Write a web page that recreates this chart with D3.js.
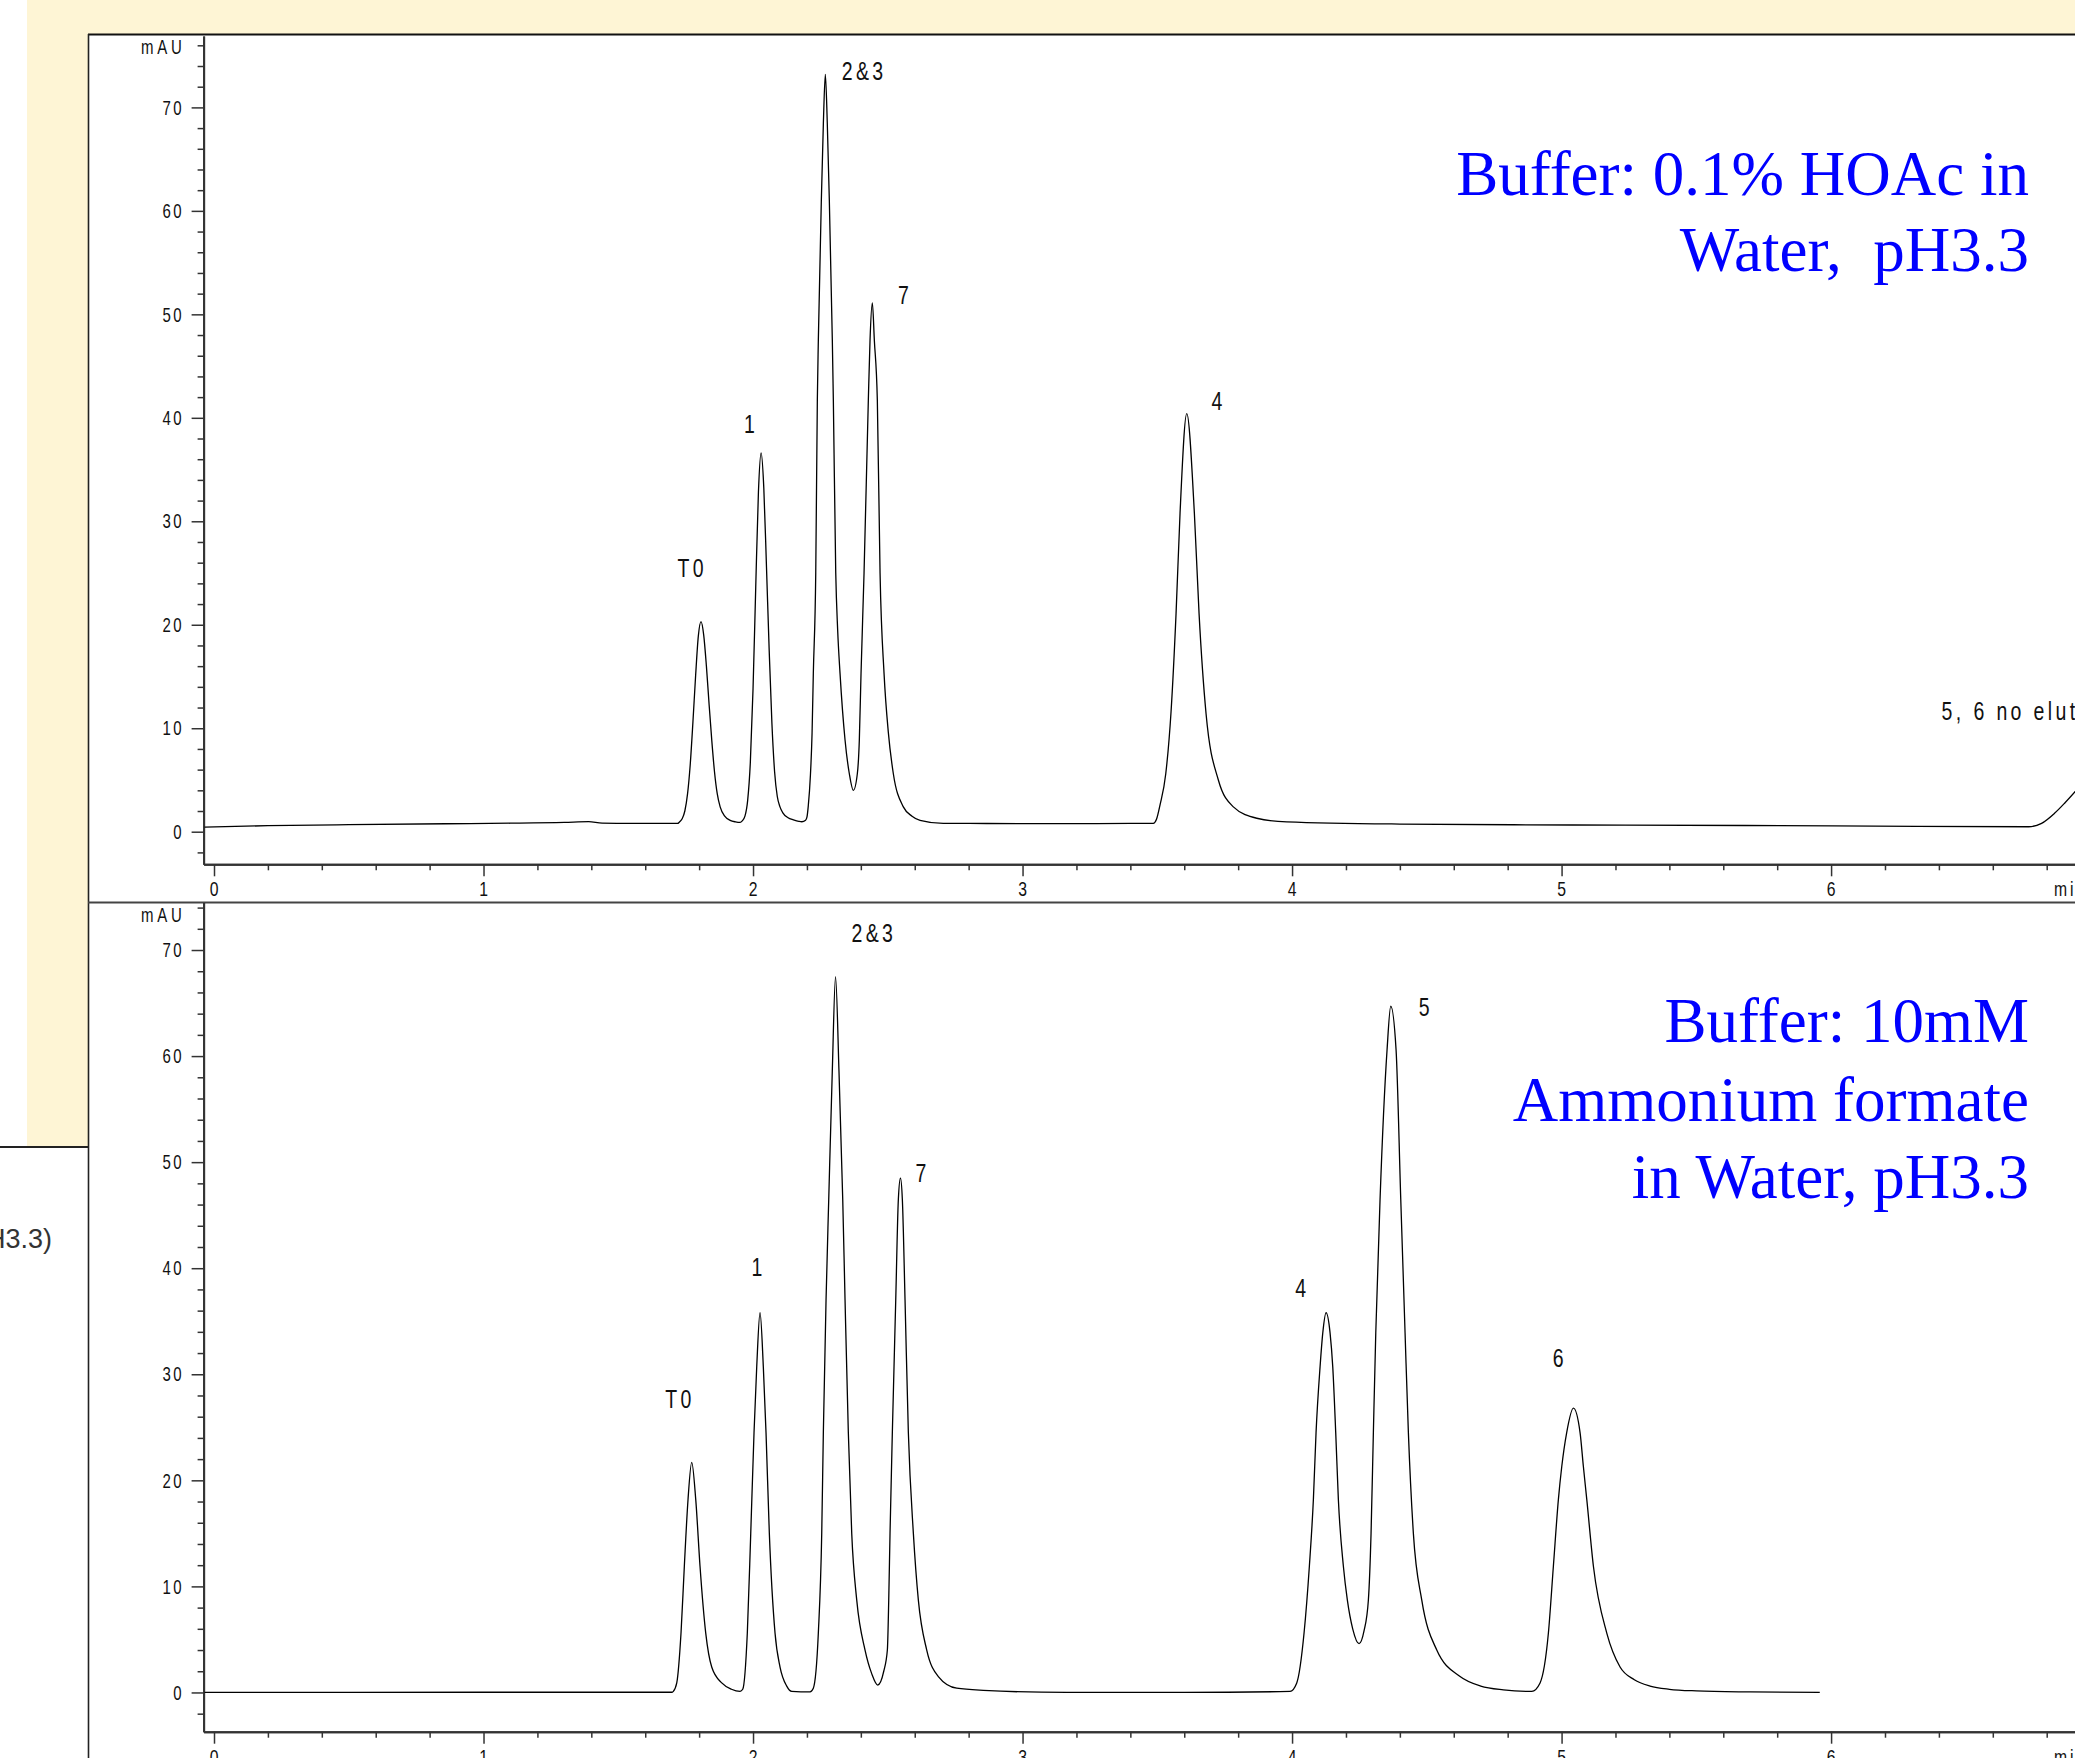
<!DOCTYPE html>
<html><head><meta charset="utf-8">
<script src="https://cdn.jsdelivr.net/npm/d3@7"></script>
<style>html,body{margin:0;padding:0;background:#fff;overflow:hidden}</style>
</head><body><div id="chart"></div>
<script>
// ---------- DATA ----------
// retention time (min), absorbance (mAU)
const topTrace = [
 [-0.035,0.45],[0.2,0.58],[0.5,0.68],[0.86,0.77],[1.1,0.82],[1.3,0.9],[1.39,0.97],[1.44,0.82],[1.55,0.8],[1.72,0.8],
 [1.727,0.94],[1.737,1.25],[1.747,2.0],[1.757,3.65],[1.767,6.5],[1.777,10.6],[1.787,15.1],[1.797,18.9],[1.807,20.3],
 [1.817,19.0],[1.827,16.0],[1.837,12.3],[1.847,8.8],[1.857,5.8],[1.867,3.7],[1.878,2.4],[1.895,1.5],[1.915,1.1],[1.935,0.95],[1.952,0.9],
 [1.960,1.05],[1.970,1.5],[1.980,3.0],[1.990,6.7],[2.000,13.8],[2.010,23.6],[2.020,32.8],[2.030,36.6],
 [2.040,33.2],[2.050,25.5],[2.060,17.5],[2.070,10.5],[2.080,5.8],[2.090,3.4],[2.100,2.4],[2.110,1.85],[2.130,1.35],[2.150,1.15],[2.170,1.0],[2.181,0.96],
 [2.195,1.1],[2.200,1.4],[2.205,2.5],[2.213,5.5],[2.219,9.5],[2.2237,15.3],[2.2327,25],[2.2386,41.7],[2.2423,47.5],[2.2534,61],[2.2610,68.5],[2.2683,73.2],
 [2.2755,68.5],[2.2831,61],[2.2942,47.5],[2.2980,41.7],[2.3069,25],[2.3140,19.5],[2.3228,15.3],[2.3414,8.86],[2.3573,5.6],[2.3722,4.0],
 [2.3870,5.6],[2.3944,8.86],[2.4007,15.3],[2.4119,25],[2.4278,41.7],[2.4341,47.5],[2.4427,51.1],
 [2.4501,47.5],[2.4612,41.7],[2.4713,25],[2.4861,15.3],[2.5020,9.6],[2.5206,5.6],[2.5577,2.4],[2.5900,1.5],[2.6197,1.1],[2.7061,0.8],
 [2.8,0.8],[3.0,0.78],[3.2,0.78],[3.4,0.8],[3.4853,0.81],[3.497,1.2],
 [3.5102,2.6],[3.5314,5.6],[3.5510,11.6],[3.5696,21.1],[3.5844,30.8],[3.6093,40.4],
 [3.6375,30.8],[3.6549,21.1],[3.6809,11.4],[3.7265,5.0],[3.7822,2.4],[3.869,1.3],[3.9803,0.95],
 [4.4,0.74],[5.04,0.65],[5.68,0.6],[6.32,0.52],[6.733,0.48],[6.781,0.81],[6.829,1.78],[6.868,2.8],[6.92,4.3]
];
const bottomTrace = [
 [-0.035,0.0],[0.5,0.0],[1.0,0.02],[1.5,0.02],[1.70,0.02],
 [1.7043,0.1],[1.717,0.9],[1.7328,5.6],[1.7451,11.9],[1.7588,18.2],[1.7725,21.7],
 [1.7874,18.2],[1.8033,11.9],[1.8245,5.6],[1.8467,2.4],[1.8839,0.9],[1.92,0.3],[1.9518,0.1],
 [1.9618,0.3],[1.9788,5.6],[1.9915,15.0],[2.0037,24.5],[2.0137,30.7],[2.026,35.8],
 [2.0382,30.7],[2.0482,24.5],[2.0605,15.0],[2.0816,5.6],[2.1002,2.4],[2.125,0.6],[2.1436,0.1],[2.2115,0.05],
 [2.2237,0.4],[2.2423,5.6],[2.2549,15.0],[2.2609,24.5],[2.2709,37.0],[2.2809,46.5],[2.294,58.5],[2.3061,67.5],
 [2.319,58.5],[2.3328,46.5],[2.3414,37.0],[2.3536,24.5],[2.3662,15.0],[2.3848,8.7],[2.4156,4.0],[2.440,1.8],[2.4627,0.7],
 [2.4850,2.0],[2.4984,4.0],[2.5035,8.7],[2.5083,15.0],[2.5169,24.5],[2.5295,37.0],[2.5392,46.5],[2.547,48.5],
 [2.554,46.5],[2.564,37.0],[2.5763,24.5],[2.5949,15.0],[2.6134,8.7],[2.6445,4.0],[2.6876,1.5],[2.7558,0.4],[2.8546,0.2],[3.164,0.0],[3.6,0.0],
 [3.9926,0.1],[4.0174,0.9],[4.0445,5.6],[4.0642,11.9],[4.0791,18.2],[4.089,24.5],[4.1039,30.7],[4.114,33.9],[4.1262,35.8],
 [4.141,33.9],[4.151,30.7],[4.162,24.5],[4.1718,18.2],[4.1904,11.9],[4.2052,8.7],[4.2250,6.0],[4.2486,4.6],[4.2670,5.8],
 [4.2831,8.7],[4.2931,15.0],[4.3017,24.5],[4.3106,33.9],[4.3265,46.5],[4.3525,60.6],[4.3662,64.7],
 [4.3859,60.6],[4.4033,46.5],[4.4193,33.9],[4.4316,24.5],[4.4501,15.0],[4.4813,8.7],[4.5369,4.0],[4.6234,1.5],[4.7000,0.6],[4.7841,0.25],[4.8894,0.1],
 [4.9202,0.9],[4.9511,5.6],[4.9696,11.9],[4.9882,18.2],[5.0007,21.3],[5.019,24.5],[5.0439,26.8],
 [5.0686,24.5],[5.0809,21.3],[5.0935,18.2],[5.1181,11.9],[5.1677,5.6],[5.217,2.4],[5.270,1.2],[5.3284,0.6],[5.400,0.3],[5.500,0.15],[5.700,0.05],[5.958,0.0]
];
const topPeakLabels = [
 {text:"T0", t:1.768, v:24.6},
 {text:"1", t:1.987, v:38.5},
 {text:"2&3", t:2.406, v:72.6},
 {text:"7", t:2.558, v:51.0},
 {text:"4", t:3.721, v:40.8}
];
const topNote = {text:"5, 6 no elution", t:6.410, v:10.8};
const bottomPeakLabels = [
 {text:"T0", t:1.723, v:26.8},
 {text:"1", t:2.014, v:39.3},
 {text:"2&3", t:2.442, v:70.8},
 {text:"7", t:2.623, v:48.1},
 {text:"4", t:4.032, v:37.3},
 {text:"5", t:4.490, v:63.8},
 {text:"6", t:4.987, v:30.7}
];
const topTitle = ["Buffer: 0.1% HOAc in", "Water,  pH3.3"];
const bottomTitle = ["Buffer: 10mM", "Ammonium formate", "in Water, pH3.3"];
const yMajorTicks = [0,10,20,30,40,50,60,70];
const xMajorTicks = [0,1,2,3,4,5,6];
const yUnit = "mAU";
const xUnit = "min";
const sideText = "pH3.3)";

// ---------- LAYOUT ----------
const W = 2075, H = 1758;
const svg = d3.select("#chart").append("svg").attr("width", W).attr("height", H)
  .style("display","block").style("background","#fff");

const beige = "#fef5d5";
svg.append("rect").attr("x",27).attr("y",0).attr("width",W-27).attr("height",34).attr("fill",beige);
svg.append("rect").attr("x",27).attr("y",0).attr("width",61).attr("height",1146).attr("fill",beige);
svg.append("line").attr("x1",0).attr("x2",88).attr("y1",1147).attr("y2",1147).attr("stroke","#222").attr("stroke-width",2.2);
svg.append("text").attr("x",52).attr("y",1248).attr("text-anchor","end")
  .attr("font-family","Liberation Sans, Arial, sans-serif").attr("font-size",27).attr("fill","#333").text(sideText);

// panel frame
svg.append("line").attr("x1",88).attr("x2",W).attr("y1",34.5).attr("y2",34.5).attr("stroke","#111").attr("stroke-width",2);
svg.append("line").attr("x1",88.5).attr("x2",88.5).attr("y1",34).attr("y2",H).attr("stroke","#222").attr("stroke-width",1.6);
svg.append("line").attr("x1",88).attr("x2",W).attr("y1",902.5).attr("y2",902.5).attr("stroke","#444").attr("stroke-width",2);

const x = d3.scaleLinear().domain([-0.0386, 6.905]).range([203.6, 2075]);
const yTop = d3.scaleLinear().domain([-3.15, 76.9]).range([864.3, 36]);
const yBot = d3.scaleLinear().domain([-3.7, 74.48]).range([1731.7, 902.5]);

const sans = "Liberation Sans, Arial, Helvetica, sans-serif";

function condensedText(g, tx, ty, txt, size, spacing, anchor) {
  return g.append("text")
    .attr("transform", `translate(${tx},${ty}) scale(0.75,1)`)
    .attr("text-anchor", anchor)
    .attr("font-family", sans).attr("font-size", size)
    .attr("letter-spacing", spacing)
    .attr("fill", "#111")
    .text(txt);
}

function drawPanel(y, trace, labels, note, title, titleBaselines) {
  const g = svg.append("g");
  const axisY = y.range()[0];
  const yAxisX = x.range()[0];
  const minor = d3.range(-2, y.domain()[1], 2).filter(v => v % 10 !== 0);
  const xMinor = d3.range(0.2, 6.9, 0.2).filter(v => Math.abs(v - Math.round(v)) > 0.01);

  // y axis
  const ya = g.append("g").attr("transform", `translate(${yAxisX},0)`);
  ya.call(d3.axisLeft(y).tickValues(yMajorTicks).tickSize(12).tickSizeOuter(0).tickFormat(""));
  ya.append("g").call(d3.axisLeft(y).tickValues(minor).tickSize(6).tickSizeOuter(0).tickFormat(""));
  // x axis
  const xa = g.append("g").attr("transform", `translate(0,${axisY})`);
  xa.call(d3.axisBottom(x).tickValues(xMajorTicks).tickSize(12).tickSizeOuter(0).tickFormat(""));
  xa.append("g").call(d3.axisBottom(x).tickValues(xMinor).tickSize(6).tickSizeOuter(0).tickFormat(""));
  g.selectAll(".domain").attr("stroke", "#333").attr("stroke-width", 2);
  g.selectAll(".tick line").attr("stroke", "#333").attr("stroke-width", 1.5);

  // tick labels
  yMajorTicks.forEach(v => condensedText(g, 184, y(v) + 7.2, String(v), 20, 3.3, "end"));
  condensedText(g, 185.5, y.range()[1] + (axisY > 1000 ? 19.5 : 18), yUnit, 20, 5, "end");
  xMajorTicks.forEach(t => condensedText(g, x(t), axisY + 32, String(t), 21, 0, "middle"));
  condensedText(g, 2054, axisY + 32, xUnit, 21, 4, "start");

  // trace
  const line = d3.line().x(d => x(d[0])).y(d => y(d[1])).curve(d3.curveMonotoneX);
  g.append("path").datum(trace).attr("d", line)
    .attr("fill", "none").attr("stroke", "#000").attr("stroke-width", 1.3);

  // peak labels
  labels.forEach(l => condensedText(g, x(l.t) + 1.7, y(l.v), l.text, 26, 4.5, "middle"));
  if (note) condensedText(g, x(note.t), y(note.v), note.text, 26, 4.5, "start");

  // title
  title.forEach((s, i) => {
    g.append("text").attr("x", 2029).attr("y", titleBaselines[i])
      .attr("text-anchor", "end").attr("font-family", "Liberation Serif, Times New Roman, serif")
      .attr("font-size", 63).attr("fill", "#0000ff").style("white-space", "pre").text(s);
  });
}

drawPanel(yTop, topTrace, topPeakLabels, topNote, topTitle, [194.5, 271]);
drawPanel(yBot, bottomTrace, bottomPeakLabels, null, bottomTitle, [1041.5, 1121, 1198]);
</script></body></html>
